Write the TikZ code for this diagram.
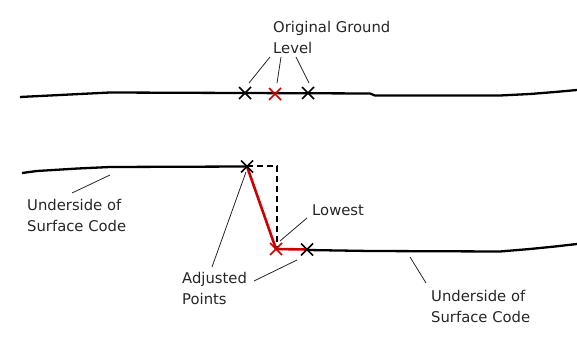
\documentclass[tikz,border=0pt]{standalone}
\usepackage{fontspec}
\setmainfont{DejaVu Sans}
\usetikzlibrary{calc}
\begin{document}
\begin{tikzpicture}[x=1pt,y=-1pt,
  ground/.style={line width=2.3pt,black},
  leader/.style={line width=0.8pt,black!85},
  lbl/.style={font=\fontsize{14.8}{21}\selectfont,text=black!85,inner sep=0pt,align=left},
  xmark/.style={line width=1.6pt},
]
\useasboundingbox (0,0) rectangle (577,344);
% top ground line
\draw[ground] (20,97) -- (40,96) -- (60,95) -- (110,92.5) -- (370,93.5) -- (375,95.5) -- (500,95.5) -- (530,94) -- (555,92) -- (577,90);
% lower left line
\draw[ground] (22,173) -- (37,171) -- (78,168.5) -- (110,167) -- (247,166.5);
% lower right line
\draw[ground] (307,250) -- (370,251) -- (500,251.5) -- (530,249) -- (555,246.5) -- (577,244);
% crosses top
\coordinate (x1) at (245,93);
\coordinate (x2) at (275,94);
\coordinate (x3) at (308,93);
\foreach \c/\col in {x1/black,x2/red!80!black,x3/black}{
  \draw[xmark,\col] ($(\c)+(-6,-6)$) -- ($(\c)+(6,6)$) ($(\c)+(-6,6)$) -- ($(\c)+(6,-6)$);
}
% lower points
\coordinate (a) at (247,166.5);
\coordinate (c) at (277,166.5);
\coordinate (b) at (276,249);
\coordinate (d) at (307,249.5);
\draw[line width=2pt,dash pattern=on 6pt off 4pt] (a) -- (c) -- (c |- b);
\draw[line width=2.6pt,red!80!black] (a) -- (b) -- (d);
\foreach \c/\col in {a/black,b/red!80!black,d/black}{
  \draw[xmark,\col] ($(\c)+(-6,-6)$) -- ($(\c)+(6,6)$) ($(\c)+(-6,6)$) -- ($(\c)+(6,-6)$);
}
% labels
\node[lbl,anchor=west] (ogl) at (273,37.5) {Original Ground\\Level};
\draw[leader] (270,57) -- (249,83);
\draw[leader] (281,57) -- (277,83);
\draw[leader] (296,57) -- (309,83);

\node[lbl,anchor=west] (usl) at (27,215.5) {Underside of\\Surface Code};
\draw[leader] (72,193) -- (110,175);

\node[lbl,anchor=west] (low) at (312,210) {Lowest};
\draw[leader] (307,218) -- (280,241);

\node[lbl,anchor=west] (adj) at (182,288) {Adjusted\\Points};
\draw[leader] (212,267) -- (246,172);
\draw[leader] (254,281) -- (297,260);

\node[lbl,anchor=west] (usr) at (431,306) {Underside of\\Surface Code};
\draw[leader] (410,257) -- (426,283);
\end{tikzpicture}
\end{document}
